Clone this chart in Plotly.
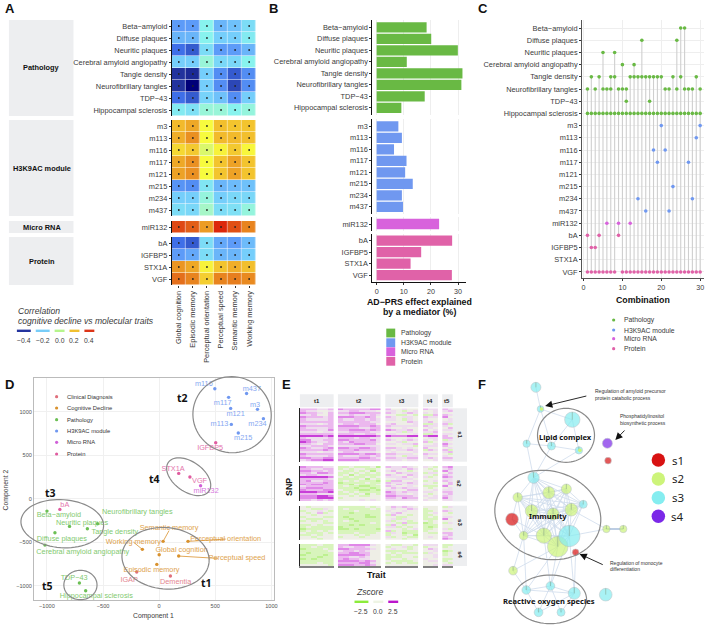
import math
import itertools
import plotly.graph_objects as go

W, H = 713, 627
FONT = "Liberation Sans"
TXT = "#3a3a3a"

# ---------- shared categories ----------
pathology = ["Beta−amyloid", "Diffuse plaques", "Neuritic plaques", "Cerebral amyloid angiopathy",
             "Tangle density", "Neurofibrillary tangles", "TDP−43", "Hippocampal sclerosis"]
module = ["m3", "m113", "m116", "m117", "m121", "m215", "m234", "m437"]
mirna = ["miR132"]
protein = ["bA", "IGFBP5", "STX1A", "VGF"]
cognition = ["Global cognition", "Episodic memory", "Perceptual orientation",
             "Perceptual speed", "Semantic memory", "Working memory"]

# ---------- panel A ----------
corr_pathology = [
    [-.28, -.28, -.12, -.24, -.22, -.17],
    [-.24, -.24, -.12, -.20, -.20, -.14],
    [-.34, -.36, -.17, -.28, -.28, -.24],
    [-.20, -.20, -.08, -.18, -.18, -.12],
    [-.40, -.41, -.20, -.30, -.36, -.30],
    [-.40, -.46, -.20, -.30, -.38, -.30],
    [-.34, -.36, -.19, -.22, -.30, -.20],
    [-.14, -.16, -.08, -.08, -.12, -.09]]
corr_module = [
    [.20, .23, .07, .19, .18, .18],
    [.22, .27, .07, .20, .20, .19],
    [.14, .17, .03, .09, .17, .08],
    [.23, .27, .07, .18, .24, .18],
    [.24, .27, .07, .18, .24, .18],
    [-.29, -.30, -.15, -.24, -.23, -.22],
    [-.20, -.20, -.09, -.20, -.18, -.18],
    [-.17, -.18, -.05, -.17, -.16, -.09]]
corr_mirna = [[.37, .34, .25, .41, .36, .29]]
corr_protein = [
    [-.34, -.36, -.17, -.26, -.28, -.23],
    [-.28, -.26, -.17, -.24, -.24, -.20],
    [.26, .23, .09, .18, .22, .19],
    [.32, .29, .16, .29, .30, .28]]
corr_ticks = ["−0.4", "−0.2", "0.0", "0.2", "0.4"]
corr_colors = ["#24349e", "#78cdf8", "#b6f58c", "#f0c030", "#dc3518"]

# ---------- panel B ----------
pct_pathology = [18.4, 20.1, 29.9, 11.1, 31.6, 31.2, 17.7, 9.1]
pct_module = [8.0, 9.3, 6.4, 11.0, 10.5, 13.3, 9.3, 9.7]
pct_mirna = [23.0]
pct_protein = [27.8, 16.4, 12.5, 27.7]
group_names = ["Pathology", "H3K9AC module", "Micro RNA", "Protein"]
group_colors = ["#69b944", "#7098f0", "#d862dc", "#e062a8"]

# ---------- panel C: combinations in which each trait is selected ----------
combo_hits = {
    "Beta−amyloid": [25, 26],
    "Diffuse plaques": [15, 24],
    "Neuritic plaques": [5, 8],
    "Cerebral amyloid angiopathy": [10, 13],
    "Tangle density": [2, 4, 7, 8, 12, 13, 14, 15, 16, 17, 18, 19, 20, 23, 25, 29],
    "Neurofibrillary tangles": [1, 3, 5, 6, 7, 9, 10, 11, 21, 22, 24, 26, 27, 28, 30],
    "TDP−43": [11, 17],
    "Hippocampal sclerosis": [1, 2, 3, 4, 5, 6, 7, 8, 9, 10, 11, 12, 13, 14, 15, 16, 17, 18, 19, 20,
                              21, 22, 23, 24, 25, 26, 27, 28, 29, 30],
    "m3": [20, 30], "m113": [29], "m116": [18, 21], "m117": [19, 27], "m121": [],
    "m215": [23], "m234": [14, 28], "m437": [16, 22],
    "miR132": [6, 9, 12],
    "bA": [1, 4, 9], "IGFBP5": [2, 3], "STX1A": [],
    "VGF": [1, 2, 3, 4, 5, 6, 7, 8, 10, 11, 12, 13, 14, 15, 16, 17, 18, 19, 20,
            21, 22, 23, 24, 25, 26, 27, 28, 29, 30],
}

# ---------- panel D: name, x, y, label x, label y ----------
d_module = [("m116", 496, 1264, 398, 1314), ("m437", 779, 1210, 826, 1260), ("m117", 619, 1165, 566, 1100),
            ("m121", 637, 1038, 681, 973), ("m3", 876, 1027, 855, 1080), ("m234", 929, 920, 876, 854),
            ("m113", 643, 854, 537, 854), ("m215", 705, 755, 749, 697)]
d_protein = [("IGFBP5", 504, 644, 454, 582), ("STX1A", 174, 291, 124, 345), ("VGF", 274, 249, 360, 203),
             ("bA", -885, -123, -841, -69)]
d_mirna = [("miR132", 369, 149, 419, 84)]
d_pathology = [("Beta−amyloid", -1000, -142, -894, -190), ("Neuritic plaques", -799, -318, -687, -279),
               ("Neurofibrillary tangles", -549, -287, -195, -153), ("Tangle density", -640, -345, -395, -383),
               ("Diffuse plaques", -929, -391, -867, -460), ("Cerebral amyloid angiopathy", -1018, -533, -681, -613),
               ("TDP−43", -711, -969, -758, -912), ("Hippocampal sclerosis", -655, -1057, -560, -1119)]
d_cognition = [("Semantic memory", 35, -490, 88, -337), ("Perceptual orientation", 257, -490, 593, -464),
               ("Working memory", -150, -582, -230, -498), ("Global cognition", 0, -644, 200, -594),
               ("Perceptual speed", 174, -659, 693, -686), ("Episodic memory", -21, -755, -68, -816)]
d_clinical = [("IGAP", -200, -843, -268, -931), ("Dementia", 100, -889, 147, -954)]
d_legend = ["Clinical Diagnosis", "Cognitive Decline", "Pathology", "H3K9AC module", "Micro RNA", "Protein"]
d_colors = ["#e0707c", "#d9922e", "#6cbf55", "#7098f0", "#d060d8", "#e05ca0"]

# ---------- panel E: digit d is a Z score of (d-4)*0.6; blocks are t1 t2 t3 t4 t5 ----------
trait_names = ["t1", "t2", "t3", "t4", "t5"]
snp_names = ["s1", "s2", "s3", "s4"]
z_s1 = ["666556 76666677 644544 655 65", "655445 55665554 554345 445 56", "766546 66777666 654565 545 44",
        "556446 55655565 443343 336 65", "766656 77766764 654554 655 74", "655556 65566565 554354 544 45",
        "666666 66666655 444465 564 55", "555456 56656664 564445 335 63", "766666 77776676 655555 655 54",
        "655556 66665566 544544 454 46", "666557 66777676 765564 645 55", "555455 55666655 445354 556 44",
        "666666 66655664 554445 335 55", "888878 88888887 877788 788 64", "655556 66656655 544454 455 66",
        "775566 77666675 654565 545 35", "876556 65766665 445344 634 54", "665466 66677664 554556 445 75",
        "556665 55555555 444443 555 64", "765567 77667765 665454 644 45", "666676 66676665 545565 365 63",
        "555455 56655554 454445 444 56", "766666 77776776 665554 655 43", "655556 65556656 554355 544 54",
        "776677 66667765 665566 565 66", "567788 77776666 555455 445 55"]
z_s2 = ["766655 33433342 655654 543 67", "665566 34344334 455465 434 56", "776656 43343424 564434 443 75",
        "665776 33434343 446555 355 46", "566555 34243333 654465 443 65", "888887 43433434 555645 534 76",
        "666665 33334243 445554 444 55", "675566 34343332 366445 345 65", "666676 23333433 655565 443 46",
        "767766 33243334 546455 544 56", "566666 34332233 654454 333 74", "677766 33323323 465655 434 45",
        "766677 43332232 554466 445 55", "888778 34343333 765655 554 66", "666555 33434243 665545 434 56",
        "777887 44343344 776665 545 65", "777888 34444444 665766 455 75", "665656 44445454 555555 544 55"]
z_s3 = ["434444 33333434 465654 444 35", "443354 34333343 454465 344 44", "344543 33343333 544544 334 65",
        "434634 33233333 456444 345 43", "443444 33333233 364434 334 44", "344433 32333223 443344 343 55",
        "433344 33233333 453544 333 74", "343434 34323333 534434 434 44", "444433 33333343 443633 234 35",
        "334344 33232333 364344 333 44", "343333 23333333 553434 323 44", "233333 22323332 444345 334 53",
        "343434 33333333 634333 344 44", "433343 33343334 354233 433 66", "334344 44434344 344342 444 56",
        "443444 34443444 534433 454 65", "444344 44444444 444344 444 76"]
z_s4 = ["333433 66777754 433443 555 33", "334333 65566544 344534 344 34", "233343 77666654 454434 465 44",
        "333334 56656544 333344 445 23", "323333 66776644 434333 354 34", "233323 77777644 343444 445 34",
        "333233 66556544 333443 445 44", "232333 67665544 344344 544 33", "333333 77776764 433334 455 34",
        "333433 66667754 343433 444 43", "444443 77766764 444444 445 55"]

# ---------- panel F: x, y, radius, set; positions ----------
f_nodes = [(206, 142, 15, "s3"), (220, 207, 10, "s3"), (316, 239, 23, "s3"), (178, 311, 11, "s3"),
           (253, 318, 12, "s3"), (336, 331, 11, "s3"), (422, 310, 15, "s4"), (424, 362, 10, "s1"),
           (199, 413, 17, "s3"), (151, 472, 14, "s2"), (245, 458, 18, "s2"), (298, 447, 15, "s2"),
           (349, 493, 12, "s3"), (193, 513, 19, "s2"), (258, 522, 18, "s2"), (313, 509, 19, "s2"),
           (134, 538, 19, "s1"), (169, 587, 13, "s2"), (230, 587, 23, "s2"), (272, 620, 31, "s2"),
           (307, 588, 32, "s3"), (326, 637, 10, "s1"), (419, 567, 11, "s2"), (470, 567, 11, "s2"),
           (137, 692, 13, "s2"), (177, 750, 13, "s3"), (250, 738, 13, "s3"), (322, 760, 18, "s3"),
           (417, 764, 19, "s3"), (214, 817, 13, "s3"), (282, 817, 12, "s3")]
f_clique = [8, 9, 10, 11, 12, 13, 14, 15, 17, 18, 19, 20]
f_edges = [(0, 1), (1, 2), (1, 3), (1, 4), (2, 4), (2, 5), (4, 5), (3, 4), (3, 8), (4, 8), (5, 8),
           (20, 22), (15, 22), (19, 24), (17, 24), (24, 25), (19, 25), (19, 26), (20, 26), (20, 27),
           (21, 27), (18, 26), (25, 26), (25, 27), (26, 27), (25, 29), (26, 29), (26, 30), (27, 30),
           (27, 29), (17, 25), (16, 9), (16, 17), (16, 18)]
f_thick_edges = [(22, 23)]
f_colors = {"s1": "#d81212", "s2": "#cdf47a", "s3": "#85edf0", "s4": "#7b28e8"}


# ---------- helpers ----------
fig = go.Figure()
layout = dict(width=W, height=H, margin=dict(l=0, r=0, t=0, b=0), showlegend=False,
              paper_bgcolor="white", plot_bgcolor="rgba(0,0,0,0)", font=dict(family=FONT, size=8, color=TXT))
notes, shapes = [], []
axis_count = [0]


def new_axes(x0, x1, y0, y1, xr, yr, xopt=None, yopt=None):
    """Create an axis pair on a pixel rectangle of the page."""
    axis_count[0] += 1
    n = axis_count[0]
    s = "" if n == 1 else str(n)
    base = dict(showgrid=False, zeroline=False, showline=False, ticks="", showticklabels=False, fixedrange=True)
    xa = dict(base, domain=[x0 / W, x1 / W], range=xr, anchor="y" + s)
    ya = dict(base, domain=[1 - y1 / H, 1 - y0 / H], range=yr, anchor="x" + s)
    xa.update(xopt or {})
    ya.update(yopt or {})
    layout["xaxis" + s] = xa
    layout["yaxis" + s] = ya
    return "x" + s, "y" + s


def text(x, y, s, size=8, color=TXT, bold=False, italic=False, anchor="center", angle=0, family=FONT):
    if bold:
        s = "<b>" + s + "</b>"
    if italic:
        s = "<i>" + s + "</i>"
    notes.append(dict(x=x / W, y=1 - y / H, xref="paper", yref="paper", text=s, showarrow=False,
                      xanchor=anchor, yanchor="middle", textangle=angle, borderpad=0,
                      font=dict(size=size, color=color, family=family)))


def rect(x0, y0, x1, y1, color, layer="below"):
    shapes.append(dict(type="rect", xref="paper", yref="paper", x0=x0 / W, x1=x1 / W, y0=1 - y0 / H, y1=1 - y1 / H,
                       fillcolor=color, line=dict(width=0), layer=layer))


def ellipse(cx, cy, rx, ry, deg, color="#8a8a8a", width=1.2):
    a = math.radians(deg)
    pts = []
    for i in range(73):
        t = 2 * math.pi * i / 72
        px = cx + rx * math.cos(t) * math.cos(a) - ry * math.sin(t) * math.sin(a)
        py = cy + rx * math.cos(t) * math.sin(a) + ry * math.sin(t) * math.cos(a)
        pts.append((px / W, 1 - py / H))
    path = "M " + " L ".join(f"{p[0]:.5f} {p[1]:.5f}" for p in pts) + " Z"
    shapes.append(dict(type="path", xref="paper", yref="paper", path=path, line=dict(color=color, width=width),
                       fillcolor="rgba(0,0,0,0)", layer="above"))


def arrow(x0, y0, x1, y1):
    notes.append(dict(x=x1 / W, y=1 - y1 / H, ax=x0 - x1, ay=y0 - y1, xref="paper", yref="paper",
                      axref="pixel", ayref="pixel", text="", showarrow=True, arrowhead=2, arrowsize=1.6,
                      arrowwidth=0.9, arrowcolor="#111", standoff=0))


# ---------- panel letters ----------
for lab, lx, ly in [("A", 9, 9), ("B", 274, 9), ("C", 485, 9), ("D", 9, 384), ("E", 288, 384), ("F", 484, 384)]:
    text(lx, ly, lab, size=13, color="#111", bold=True)

# ---------- panel A ----------
scale = [[0.0, "#000078"], [0.055, "#22339c"], [0.122, "#3f6fe8"], [0.19, "#5e9cf8"], [0.28, "#76cffb"],
         [0.367, "#88f3ee"], [0.45, "#a8f6c4"], [0.5, "#c4f68e"], [0.58, "#f8fb3c"], [0.72, "#f2bb2c"], [0.83, "#e7801e"],
         [0.94, "#dc3510"], [1.0, "#dd0000"]]
a_blocks = [(pathology, corr_pathology, 20, 116, "Pathology"),
            (module, corr_module, 120, 216, "H3K9AC module"),
            (mirna, corr_mirna, 221, 233, "Micro RNA"),
            (protein, corr_protein, 237, 285, "Protein")]
for i, (names, vals, y0, y1, title) in enumerate(a_blocks):
    xo = {}
    if i == 3:
        xo = dict(showticklabels=True, ticks="outside", ticklen=2, tickwidth=0.8, tickcolor="#333", tickangle=-90,
                  tickvals=list(range(6)), ticktext=cognition, tickfont=dict(size=7.4, color=TXT))
    yo = dict(showline=True, linecolor="#111", linewidth=1, showticklabels=True, ticks="outside", ticklen=2,
              tickwidth=0.8, tickcolor="#333", tickvals=list(range(len(names))), ticktext=names,
              tickfont=dict(size=7.4, color=TXT))
    xa, ya = new_axes(172, 257, y0, y1, [-0.5, 5.5], [len(names) - 0.5, -0.5], xo, yo)
    fig.add_trace(go.Heatmap(z=vals, x=list(range(6)), y=list(range(len(names))), zmin=-0.45, zmax=0.45,
                             colorscale=scale, showscale=False, xgap=0.5, ygap=0.5, xaxis=xa, yaxis=ya))
    fig.add_trace(go.Scatter(x=[c for _ in names for c in range(6)],
                             y=[r for r in range(len(names)) for _ in range(6)],
                             mode="markers", marker=dict(size=1.8, color="#222"), xaxis=xa, yaxis=ya))
    rect(8, y0, 73, y1, "#edeef0")
    text(41, (y0 + y1) / 2, title, size=7.4, color="#111", bold=True)

text(16, 311, "Correlation", size=8.6, italic=True, anchor="left")
text(16, 321, "cognitive decline vs molecular traits", size=8.6, italic=True, anchor="left")
for (x0, x1), c, t in zip([(16, 30), (35, 49), (54, 64), (69, 79), (84, 94)], corr_colors, corr_ticks):
    rect(x0, 329.6, x1, 332, c)
    text((x0 + x1) / 2, 340, t, size=6.8)

# ---------- panel B ----------
b_blocks = [(pathology, pct_pathology, 27.3, group_colors[0]), (module, pct_module, 126.3, group_colors[1]),
            (mirna, pct_mirna, 224.0, group_colors[2]), (protein, pct_protein, 240.7, group_colors[3])]
ROW_B = 11.5
for i, (names, vals, c0, col) in enumerate(b_blocks):
    n = len(names)
    xo = dict(showgrid=True, gridcolor="#eeeeee", gridwidth=0.7, tickvals=[0, 10, 20, 30])
    if i == 3:
        xo.update(showticklabels=True, ticks="outside", ticklen=2, tickwidth=0.8, tickcolor="#333", showline=True,
                  linecolor="#111", linewidth=1, tickfont=dict(size=7.2, color=TXT))
    yo = dict(showline=True, linecolor="#111", linewidth=1, showticklabels=True, ticks="outside", ticklen=2,
              tickwidth=0.8, tickcolor="#333", tickvals=list(range(n)), ticktext=names,
              tickfont=dict(size=7.4, color=TXT))
    xa, ya = new_axes(374, 468, c0 - 0.6 * ROW_B, c0 + (n - 1 + 0.6) * ROW_B, [-1.57, 32.8], [n - 1 + 0.6, -0.6], xo, yo)
    fig.add_trace(go.Bar(x=vals, y=list(range(n)), orientation="h", width=0.9, marker=dict(color=col, line=dict(width=0)),
                         xaxis=xa, yaxis=ya))
text(421.5, 302, "AD−PRS effect explained", size=8.8, color="#111", bold=True)
text(421.5, 312, "by a mediator (%)", size=8.8, color="#111", bold=True)
for gi, (g, gc, gy) in enumerate(zip(group_names, group_colors, [333, 342.7, 351.7, 361.3])):
    rect(388, gy - 4.4, 397, gy + 4.4, gc)
    text(401.7, gy, g, size=6.8, anchor="left")

# ---------- panel C ----------
c_rows = list(combo_hits.keys())
c_group = ([0] * len(pathology)) + ([1] * len(module)) + ([2] * len(mirna)) + ([3] * len(protein))
xa, ya = new_axes(585.3, 708, 20, 278.3, [-0.35, 31.0], [20.52, -0.66],
                  dict(showgrid=True, gridcolor="#eeeeee", gridwidth=0.7, showticklabels=True, ticks="outside", ticklen=2,
                       tickwidth=0.8, tickcolor="#333", tickvals=[0, 10, 20, 30], showline=True, linecolor="#555",
                       linewidth=1.2, tickfont=dict(size=7.2, color=TXT)),
                  dict(showgrid=True, gridcolor="#eeeeee", gridwidth=0.7, showticklabels=True, ticks="outside", ticklen=2,
                       tickwidth=0.8, tickcolor="#333", tickvals=list(range(len(c_rows))), ticktext=c_rows, showline=True,
                       linecolor="#555", linewidth=1.2, tickfont=dict(size=7.4, color=TXT)))
stem_x, stem_y = [], []
for combo in range(1, 31):
    rows = [r for r, name in enumerate(c_rows) if combo in combo_hits[name]]
    stem_x += [combo, combo, None]
    stem_y += [min(rows), max(rows), None]
fig.add_trace(go.Scatter(x=stem_x, y=stem_y, mode="lines", line=dict(color="#cfcfcf", width=1.1), xaxis=xa, yaxis=ya))
for g, gc in enumerate(group_colors):
    xs, ys = [], []
    for r, name in enumerate(c_rows):
        if c_group[r] == g:
            xs += combo_hits[name]
            ys += [r] * len(combo_hits[name])
    fig.add_trace(go.Scatter(x=xs, y=ys, mode="markers", marker=dict(size=3.6, color=gc), xaxis=xa, yaxis=ya))
text(646.7, 300, "Combination", size=8.8, color="#111", bold=True)

# ---------- panel D ----------
xa, ya = new_axes(33.3, 275, 378.3, 600, [-1115, 1024], [-1164, 1384],
                  dict(showgrid=True, gridcolor="#f0f0f0", gridwidth=0.7, showticklabels=True, ticks="", showline=True,
                       mirror=True, linecolor="#bbbbbb", linewidth=1, tickvals=[-1000, -500, 0, 500, 1000],
                       ticktext=["−1000", "−500", "0", "500", "1000"], tickfont=dict(size=5.6, color="#555")),
                  dict(showgrid=True, gridcolor="#f0f0f0", gridwidth=0.7, showticklabels=True, ticks="", showline=True,
                       mirror=True, linecolor="#bbbbbb", linewidth=1, tickvals=[-1000, -500, 0, 500, 1000],
                       ticktext=["−1000", "−500", "0", "500", "1000"], tickfont=dict(size=5.6, color="#555")))
d_series = [(d_clinical, d_colors[0]), (d_cognition, d_colors[1]), (d_pathology, d_colors[2]),
            (d_module, d_colors[3]), (d_mirna, d_colors[4]), (d_protein, d_colors[5])]
for items, col in d_series:
    if col == d_colors[1]:
        lx, ly = [], []
        for it in items:
            if it[0] in ("Semantic memory", "Working memory", "Perceptual speed", "Perceptual orientation"):
                lx += [it[1], it[3] if it[0] != "Perceptual speed" else it[3] - 170, None]
                ly += [it[2], it[4] if it[0] != "Semantic memory" else it[4] - 30, None]
        fig.add_trace(go.Scatter(x=lx, y=ly, mode="lines", line=dict(color=col, width=0.8), xaxis=xa, yaxis=ya))
    fig.add_trace(go.Scatter(x=[i[1] for i in items], y=[i[2] for i in items], mode="markers",
                             marker=dict(size=3.4, color=col), xaxis=xa, yaxis=ya))
    fig.add_trace(go.Scatter(x=[i[3] for i in items], y=[i[4] for i in items], text=[i[0] for i in items], mode="text",
                             textfont=dict(size=7.3, color=col, family=FONT), textposition="middle center",
                             opacity=0.85, xaxis=xa, yaxis=ya))
text(154, 616, "Component 1", size=6.8)
text(5.5, 490, "Component 2", size=6.8, angle=-90)
for (name, col, ly) in zip(d_legend, d_colors, [396.7, 408, 419.7, 431, 442.3, 454]):
    text(65.7, ly, name, size=5.8, color="#333", anchor="left")
for t, tx, ty in [("t2", 183, 397.7), ("t4", 154.7, 479.3), ("t3", 50.3, 493.3), ("t5", 47.3, 586.3), ("t1", 207.3, 583.3)]:
    text(tx, ty, t, size=10.5, color="#111", bold=True, family="Noto Sans")
ellipse(232.7, 414.7, 39.5, 38, 10)
ellipse(189, 476.7, 25, 15, 35)
ellipse(61.7, 523.7, 41.7, 24, 4)
ellipse(165.7, 558.3, 44, 30.7, 5)
ellipse(80, 585, 16.7, 14.7, 0)

# ---------- panel E ----------
t_columns = [(301, 335), (339.3, 382.3), (387, 420.3), (425, 440), (444.3, 455)]
s_rows = [(408.3, 461.7, z_s1), (466, 501.3, z_s2), (505.7, 540, z_s3), (544, 566, z_s4)]
z_scale = [[0, "#8cec3c"], [0.1, "#a0ee60"], [0.3, "#bdf090"], [0.4, "#d8f4bc"], [0.5, "#eeeee6"],
           [0.6, "#eedcee"], [0.7, "#ebb8ee"], [0.8, "#e088e8"], [0.9, "#c83ed8"], [1, "#bb16cc"]]
for ci, (x0, x1) in enumerate(t_columns):
    rect(x0, 394.3, x1, 407.3, "#edeef0")
    text((x0 + x1) / 2, 401, trait_names[ci], size=6, color="#222", bold=True)
for ri, (y0, y1, rows) in enumerate(s_rows):
    rect(455, y0, 469.3, y1, "#edeef0")
    text(462, (y0 + y1) / 2, snp_names[ri], size=6, color="#222", bold=True, angle=90)
    cells = [row.split() for row in rows]
    for ci, (x0, x1) in enumerate(t_columns):
        z = [[(int(d) - 4) * 0.6 for d in c[ci]] for c in cells]
        xo = dict(showline=True, linecolor="#808080", linewidth=2) if ri == 3 else {}
        yo = dict(showline=True, linecolor="#222", linewidth=1) if ci == 0 else {}
        ncol, nrow = len(z[0]), len(z)
        xa, ya = new_axes(x0, x1, y0, y1, [-0.5, ncol - 0.5], [nrow - 0.5, -0.5], xo, yo)
        fig.add_trace(go.Heatmap(z=z, x=list(range(ncol)), y=list(range(nrow)), zmin=-3, zmax=3,
                                 colorscale=z_scale, showscale=False, xaxis=xa, yaxis=ya))
text(290, 487, "SNP", size=8.8, color="#111", bold=True, angle=-90)
text(378, 575, "Trait", size=8.8, color="#111", bold=True)
text(371, 592, "Zscore", size=8.6, italic=True)
for (x0, x1), c, t, tx in zip([(356, 370), (375, 385), (390, 400)], ["#8cec3c", "#eef4e4", "#bb16cc"],
                              ["−2.5", "0.0", "2.5"], [363, 380, 395]):
    rect(x0, 600.6, x1, 603, c)
    text(tx, 611, t, size=6.8)

# ---------- panel F (axis units are thirds of a page pixel) ----------
xa, ya = new_axes(470, 713, 340, 627, [0, 729], [861, 0])
edge_list = list(itertools.combinations(f_clique, 2)) + f_edges
ex, ey = [], []
for a, b in edge_list:
    ex += [f_nodes[a][0], f_nodes[b][0], None]
    ey += [f_nodes[a][1], f_nodes[b][1], None]
fig.add_trace(go.Scatter(x=ex, y=ey, mode="lines", line=dict(color="#cfdcec", width=0.8), xaxis=xa, yaxis=ya))
tx, ty = [], []
for a, b in f_thick_edges:
    tx += [f_nodes[a][0], f_nodes[b][0], None]
    ty += [f_nodes[a][1], f_nodes[b][1], None]
fig.add_trace(go.Scatter(x=tx, y=ty, mode="lines", line=dict(color="#b5c8e0", width=1.8), xaxis=xa, yaxis=ya))
fig.add_trace(go.Scatter(x=[n[0] for n in f_nodes], y=[n[1] for n in f_nodes], mode="markers",
                         marker=dict(size=[2 * n[2] / 3 for n in f_nodes], color=[f_colors[n[3]] for n in f_nodes],
                                     line=dict(color="#a8b4b8", width=0.6)), xaxis=xa, yaxis=ya))
sx, sy = [], []
for n in f_nodes:
    if n[3] in ("s2", "s3"):
        sx += [n[0], n[0], None]
        sy += [n[1], n[1] - n[2], None]
fig.add_trace(go.Scatter(x=sx, y=sy, mode="lines", line=dict(color="#7f9a80", width=0.5), xaxis=xa, yaxis=ya))
f_half = [1, 5]
hx, hy = [], []
for i in f_half:
    hx.append(f_nodes[i][0] + 3)
    hy.append(f_nodes[i][1])
fig.add_trace(go.Scatter(x=hx, y=hy, mode="markers", marker=dict(size=3.6, color=f_colors["s2"]), xaxis=xa, yaxis=ya))
for name, yy in zip(["s1", "s2", "s3", "s4"], [360, 417, 473, 529]):
    fig.add_trace(go.Scatter(x=[576], y=[yy], mode="markers", marker=dict(size=13.5, color=f_colors[name]),
                             xaxis=xa, yaxis=ya))
    text(470 + 634 / 3, 340 + yy / 3, name, size=11.5, color="#222", family="Noto Sans")
ellipse(470 + 297 / 3, 340 + 286 / 3, 28.7, 27, 0)
ellipse(470 + 242 / 3, 340 + 525 / 3, 54, 44, 15)
ellipse(470 + 249 / 3, 340 + 778 / 3, 36.7, 24.3, 0)
text(470 + 295 / 3, 340 + 290 / 3, "Lipid complex", size=7.6, color="#111", bold=True, family="Noto Sans")
text(470 + 243 / 3, 340 + 528 / 3, "Immunity", size=7.6, color="#111", bold=True, family="Noto Sans")
text(470 + 246 / 3, 340 + 782 / 3, "Reactive oxygen species", size=7.6, color="#111", bold=True, family="Noto Sans")
for s, xp, yp in [("Regulation of amyloid precursor", 383, 153), ("protein catabolic process", 383, 173),
                  ("Phosphatidylinositol", 458, 229), ("biosynthetic process", 458, 249),
                  ("Regulation of monocyte", 428, 668), ("differentiation", 428, 688)]:
    text(470 + xp / 3, 340 + yp / 3, s, size=5, color="#333", anchor="left")
arrow(470 + 362 / 3, 340 + 167 / 3, 470 + 234 / 3, 340 + 198 / 3)
arrow(470 + 478 / 3, 340 + 267 / 3, 470 + 446 / 3, 340 + 300 / 3)
arrow(470 + 412 / 3, 340 + 676 / 3, 470 + 338 / 3, 340 + 642 / 3)

# ---------- page overlay for the panel C and D key markers ----------
xa, ya = new_axes(0, W, 0, H, [0, W], [H, 0])
fig.add_trace(go.Scatter(x=[56] * 6, y=[396.7, 408, 419.7, 431, 442.3, 454], mode="markers",
                         marker=dict(size=3.2, color=d_colors), xaxis=xa, yaxis=ya))
fig.add_trace(go.Scatter(x=[617] * 4, y=[320, 330, 338.7, 348.7], mode="markers",
                         marker=dict(size=3.2, color=group_colors), xaxis=xa, yaxis=ya))
for g, gy in zip(group_names, [320, 330, 338.7, 348.7]):
    text(626.7, gy, g, size=6.8, anchor="left")

layout["annotations"] = notes
layout["shapes"] = shapes
fig.update_layout(**layout)
fig.write_html("out.html", config=dict(displayModeBar=False),
               post_script="document.body.style.margin='0';")
